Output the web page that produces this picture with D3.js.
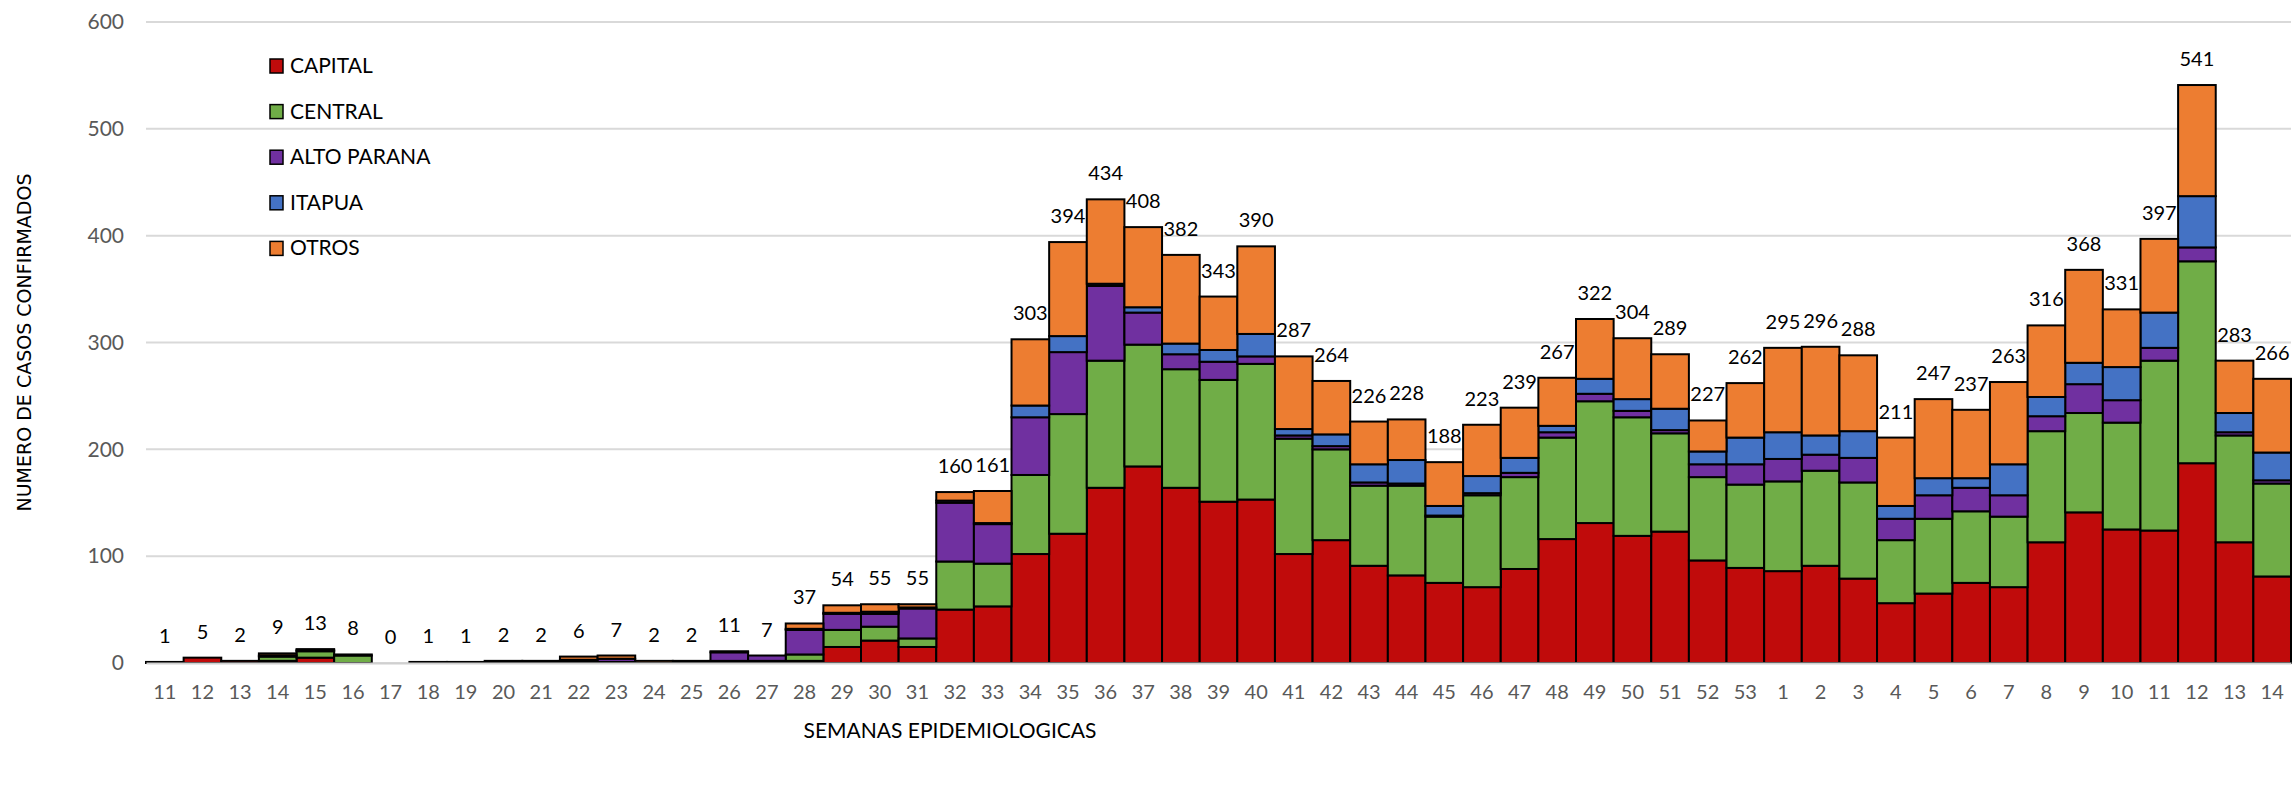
<!DOCTYPE html>
<html>
<head>
<meta charset="utf-8">
<script src="https://cdn.jsdelivr.net/npm/d3@7"></script>
<style>
  body { margin: 0; background: #fff; }
  text { font-family: Lato, "Open Sans", sans-serif; }
</style>
</head>
<body>
<script>
// semanas epidemiologicas (2020 -> 2021)
const weeks = ["11","12","13","14","15","16","17","18","19","20","21","22","23","24","25","26","27","28","29","30",
  "31","32","33","34","35","36","37","38","39","40","41","42","43","44","45","46","47","48","49","50","51","52","53",
  "1","2","3","4","5","6","7","8","9","10","11","12","13","14"];

const capital = [1,5,2,2,5,0,0,1,1,1,1,1,1,0,1,1,1,2,15,21,
  15,50,53,102,121,164,184,164,151,153,102,115,91,82,75,71,88,116,131,119,123,96,89,
  86,91,79,56,65,75,71,113,141,125,124,187,113,81];
const central = [0,0,0,4,6,7,0,0,0,1,0,1,0,0,0,1,1,6,16,13,
  8,45,40,74,112,119,114,111,114,127,108,85,75,84,62,86,86,95,114,111,92,78,78,
  84,89,90,59,70,67,66,104,93,100,159,189,100,87];
const altoParana = [0,0,0,1,1,0,0,0,0,0,1,1,3,0,1,8,5,23,15,12,
  28,55,37,54,58,70,30,14,17,7,3,3,3,2,1,2,4,5,7,6,3,12,19,
  21,15,23,20,22,22,20,14,27,21,12,13,3,3];
const itapua = [0,0,0,0,0,0,0,0,0,0,0,0,0,0,0,0,0,1,1,2,
  1,2,1,11,15,2,5,10,11,21,6,11,17,22,9,16,14,6,14,11,20,12,25,
  25,18,25,12,16,9,29,18,20,31,33,48,18,26];
const otros = [0,0,0,2,1,1,0,0,0,0,0,3,3,2,0,1,0,5,7,7,
  3,8,30,62,88,79,75,83,50,82,68,50,40,38,41,48,47,45,56,57,51,29,51,
  79,83,71,64,74,64,77,67,87,54,69,104,49,69];

const seriesNames = ["CAPITAL","CENTRAL","ALTO PARANA","ITAPUA","OTROS"];
const seriesColors = ["#C00B0B","#70AD47","#7030A0","#4472C4","#ED7D31"];
const yTicks = [0,100,200,300,400,500,600];

const width = 2295, height = 787;
const margin = {top: 22, right: 4, bottom: 124, left: 146};

const svg = d3.select("body")
  .append("svg")
  .attr("width", width)
  .attr("height", height);

// build rows for d3.stack
const rows = weeks.map((w, i) => ({
  idx: i,
  "CAPITAL": capital[i],
  "CENTRAL": central[i],
  "ALTO PARANA": altoParana[i],
  "ITAPUA": itapua[i],
  "OTROS": otros[i]
}));
const stacked = d3.stack().keys(seriesNames)(rows);
const total = i => capital[i] + central[i] + altoParana[i] + itapua[i] + otros[i];

const xScale = d3.scaleBand()
  .domain(d3.range(weeks.length))
  .range([margin.left, width - margin.right])
  .padding(0);
const yScale = d3.scaleLinear()
  .domain([0, 600])
  .range([height - margin.bottom, margin.top]);
const color = d3.scaleOrdinal().domain(seriesNames).range(seriesColors);

// gridlines
svg.append("g")
  .selectAll("line")
  .data(yTicks)
  .enter()
  .append("line")
  .attr("x1", margin.left)
  .attr("x2", width - margin.right)
  .attr("y1", d => yScale(d))
  .attr("y2", d => yScale(d))
  .attr("stroke", "#D9D9D9")
  .attr("stroke-width", 2);

// y labels
const yAxis = d3.axisLeft(yScale).tickValues(yTicks).tickSize(0).tickPadding(22);
svg.append("g")
  .attr("transform", "translate(" + margin.left + ",0)")
  .call(yAxis)
  .call(g => g.select(".domain").remove())
  .call(g => g.selectAll("text")
    .attr("fill", "#595959")
    .style("font-size", "21px")
    .style("font-family", "Lato, sans-serif"));

// stacked bars
svg.append("g")
  .selectAll("g")
  .data(stacked)
  .enter()
  .append("g")
  .attr("fill", d => color(d.key))
  .selectAll("rect")
  .data(d => d)
  .enter()
  .append("rect")
  .attr("x", d => xScale(d.data.idx))
  .attr("y", d => yScale(d[1]))
  .attr("width", xScale.bandwidth())
  .attr("height", d => yScale(d[0]) - yScale(d[1]))
  .attr("stroke", "#000")
  .attr("stroke-width", 2);

// x axis
const xAxis = d3.axisBottom(xScale).tickFormat(i => weeks[i]).tickSize(0).tickPadding(22);
svg.append("g")
  .attr("transform", "translate(0," + (height - margin.bottom) + ")")
  .call(xAxis)
  .call(g => g.select(".domain").attr("stroke", "#D0D0D0").attr("stroke-width", 2))
  .call(g => g.selectAll("text")
    .attr("fill", "#595959")
    .style("font-size", "20px")
    .style("font-family", "Lato, sans-serif"));

// total labels
svg.append("g")
  .selectAll("text")
  .data(rows)
  .enter()
  .append("text")
  .attr("x", d => xScale(d.idx) + xScale.bandwidth() / 2)
  .attr("y", d => yScale(total(d.idx)) - 19)
  .attr("text-anchor", "middle")
  .style("font-size", "20px")
  .attr("fill", "#000")
  .text(d => total(d.idx));

// legend
const legend = svg.append("g")
  .selectAll("g")
  .data(seriesNames)
  .enter()
  .append("g")
  .attr("transform", (d, i) => "translate(270," + (66 + i * 45.6) + ")");
legend.append("rect")
  .attr("x", 0)
  .attr("y", -7)
  .attr("width", 13)
  .attr("height", 14)
  .attr("fill", d => color(d))
  .attr("stroke", "#000")
  .attr("stroke-width", 1.5);
legend.append("text")
  .attr("x", 20)
  .attr("y", 7)
  .style("font-size", "21px")
  .attr("fill", "#000")
  .text(d => d);

// axis titles
svg.append("text")
  .attr("transform", "translate(31," + ((margin.top + height - margin.bottom) / 2) + ") rotate(-90)")
  .attr("text-anchor", "middle")
  .style("font-family", "'DejaVu Sans', sans-serif")
  .style("font-size", "19px")
  .attr("textLength", 338)
  .attr("fill", "#000")
  .text("NUMERO DE CASOS CONFIRMADOS");

svg.append("text")
  .attr("x", 950)
  .attr("y", 738)
  .attr("text-anchor", "middle")
  .style("font-size", "21px")
  .attr("fill", "#000")
  .text("SEMANAS EPIDEMIOLOGICAS");
</script>
</body>
</html>
